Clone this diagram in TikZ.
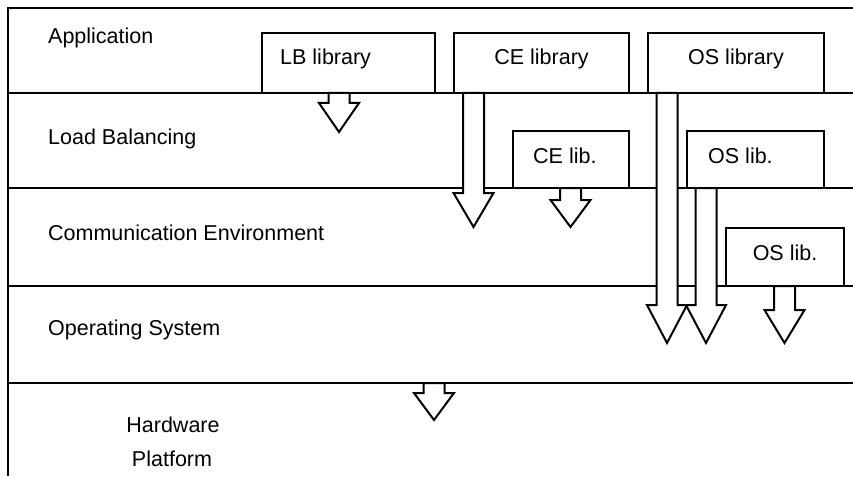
\documentclass[tikz,border=0pt]{standalone}
\usepackage{fontspec}
\setmainfont{Liberation Sans}
% block arrow: #1 centre x, #2 top y, #3 y where the head starts, #4 tip y
\newcommand\blkarrow[4]{%
  \draw[blockarrow] (#1-10.5,#2) -- (#1-10.5,#3) -- (#1-20,#3) -- (#1,#4)
    -- (#1+20,#3) -- (#1+10.5,#3) -- (#1+10.5,#2) -- cycle;}
\begin{document}
\begin{tikzpicture}[x=1pt,y=-1pt,
  rule/.style={line width=2pt},
  libbox/.style={draw,line width=2pt,fill=white,inner sep=0pt,outer sep=0pt,anchor=south west},
  blockarrow/.style={draw,line width=2pt,fill=white,line join=miter},
  lbl/.style={font=\fontsize{21.5}{24}\selectfont,inner sep=0pt}]
\useasboundingbox (0,0) rectangle (853,476);

% layer frame and separators
\draw[rule] (853,8) -- (8,8) -- (8,476);
\foreach \y in {93,188,286,383} \draw[rule] (8,\y) -- (853,\y);

% layer names
\node[lbl,anchor=base west] (app) at (48,44) {Application};
\node[lbl,anchor=base west] (lbal) at (48,144) {Load Balancing};
\node[lbl,anchor=base west] (comm) at (48,240) {Communication Environment};
\node[lbl,anchor=base west] (opsys) at (48,335) {Operating System};
\node[lbl,anchor=base] (hw1) at (173,432) {Hardware};
\node[lbl,anchor=base] (hw2) at (172,466) {Platform};

% library boxes
\node[libbox,minimum width=173pt,minimum height=60pt] (lblib) at (262,93) {};
\node[libbox,minimum width=175pt,minimum height=60pt] (celib) at (454,93) {};
\node[libbox,minimum width=176pt,minimum height=60pt] (oslib) at (648,93) {};
\node[libbox,minimum width=116pt,minimum height=57pt] (celb) at (513,188) {};
\node[libbox,minimum width=137pt,minimum height=57pt] (oslb) at (687,188) {};
\node[libbox,minimum width=118pt,minimum height=58pt] (osce) at (726,286) {};

\node[lbl,anchor=base west] (tlblib) at (280,65) {LB library};
\node[lbl,anchor=base] (tcelib) at (541.5,65) {CE library};
\node[lbl,anchor=base] (toslib) at (736,65) {OS library};
\node[lbl,anchor=base west] (tcelb) at (533,163) {CE lib.};
\node[lbl,anchor=base west] (toslb) at (708,163) {OS lib.};
\node[lbl,anchor=base] (tosce) at (785,260) {OS lib.};

% downward block arrows
\blkarrow{339}{93}{103}{132}
\blkarrow{473.5}{93}{193}{227}
\blkarrow{570.5}{188}{200}{227}
\blkarrow{667}{93}{305}{343}
\blkarrow{706}{188}{305}{343}
\blkarrow{784.5}{286}{310}{343}
\blkarrow{434}{383}{393}{420}
\end{tikzpicture}
\end{document}
